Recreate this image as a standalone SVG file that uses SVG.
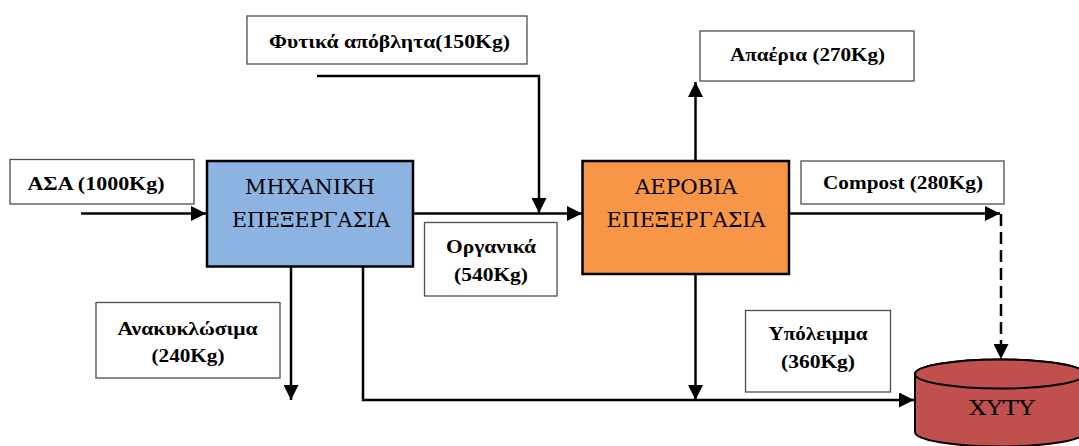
<svg xmlns="http://www.w3.org/2000/svg" width="1079" height="446" viewBox="0 0 1079 446">
  <style>
    .lbl-box { fill: #ffffff; stroke: #4d4d4d; stroke-width: 1.3; }
    .lbl { font-family: "Liberation Serif", "DejaVu Serif", "Times New Roman", serif; font-weight: bold; font-size: 19px; fill: #000; text-anchor: middle; }
    .proc { stroke: #000; stroke-width: 2.5; }
    .proc-txt { font-family: "DejaVu Serif", "Liberation Serif", serif; font-size: 20.5px; fill: #000; text-anchor: middle; }
    .wire { fill: none; stroke: #000; stroke-width: 2.5; }
    .dashed { stroke-dasharray: 12 6; }
  </style>
  <defs>
    <marker id="arrow" markerUnits="userSpaceOnUse" markerWidth="16" markerHeight="15" refX="15" refY="7.5" orient="auto">
      <path d="M0,0 L15,7.5 L0,15 Z" fill="#000"/>
    </marker>
  </defs>

  <rect width="1079" height="446" fill="#ffffff"/>

  <!-- flow lines -->
  <g id="connectors">
    <path class="wire" d="M81,213.5 H206" marker-end="url(#arrow)"/>
    <path class="wire" d="M413,213.5 H582" marker-end="url(#arrow)"/>
    <path class="wire" d="M317,76 H539 V213" marker-end="url(#arrow)"/>
    <path class="wire" d="M695.5,161 V82" marker-end="url(#arrow)"/>
    <path class="wire" d="M789,213.5 H1000" marker-end="url(#arrow)"/>
    <path class="wire dashed" d="M1001,214 V359" marker-end="url(#arrow)"/>
    <path class="wire" d="M291,266.5 V400" marker-end="url(#arrow)"/>
    <path class="wire" d="M363,266.5 V400 H914" marker-end="url(#arrow)"/>
    <path class="wire" d="M695.5,274 V400" marker-end="url(#arrow)"/>
  </g>

  <!-- inputs -->
  <g id="asa">
    <rect class="lbl-box" x="10" y="159.5" width="184" height="44.5"/>
    <text class="lbl" x="96" y="189.5" textLength="137" lengthAdjust="spacingAndGlyphs">ΑΣΑ (1000Kg)</text>
  </g>
  <g id="fytika">
    <rect class="lbl-box" x="247" y="16" width="280" height="48"/>
    <text class="lbl" x="389.5" y="47.5" textLength="241" lengthAdjust="spacingAndGlyphs">Φυτικά απόβλητα(150Kg)</text>
  </g>

  <!-- processing stages -->
  <g id="mechanical">
    <rect class="proc" x="207" y="161" width="206" height="105.5" fill="#8DB3E2"/>
    <text class="proc-txt" x="310" y="194" textLength="130" lengthAdjust="spacingAndGlyphs">ΜΗΧΑΝΙΚΗ</text>
    <text class="proc-txt" x="311" y="227" textLength="158" lengthAdjust="spacingAndGlyphs">ΕΠΕΞΕΡΓΑΣΙΑ</text>
  </g>
  <g id="aerobic">
    <rect class="proc" x="582.5" y="161" width="206.5" height="113" fill="#F79646"/>
    <text class="proc-txt" x="686" y="194" textLength="102" lengthAdjust="spacingAndGlyphs">ΑΕΡΟΒΙΑ</text>
    <text class="proc-txt" x="686" y="227" textLength="159" lengthAdjust="spacingAndGlyphs">ΕΠΕΞΕΡΓΑΣΙΑ</text>
  </g>

  <!-- outputs -->
  <g id="organika">
    <rect class="lbl-box" x="424.5" y="222.5" width="132.5" height="73.5"/>
    <text class="lbl" x="491" y="253" textLength="90" lengthAdjust="spacingAndGlyphs">Οργανικά</text>
    <text class="lbl" x="491" y="281" textLength="74" lengthAdjust="spacingAndGlyphs">(540Kg)</text>
  </g>
  <g id="anakyklosima">
    <rect class="lbl-box" x="96" y="302.5" width="184" height="75.5"/>
    <text class="lbl" x="187.5" y="335" textLength="140" lengthAdjust="spacingAndGlyphs">Ανακυκλώσιμα</text>
    <text class="lbl" x="188" y="361.5" textLength="73" lengthAdjust="spacingAndGlyphs">(240Kg)</text>
  </g>
  <g id="apaeria">
    <rect class="lbl-box" x="700" y="31" width="214" height="50"/>
    <text class="lbl" x="807.5" y="61" textLength="155" lengthAdjust="spacingAndGlyphs">Απαέρια (270Kg)</text>
  </g>
  <g id="compost">
    <rect class="lbl-box" x="801" y="161" width="203" height="43"/>
    <text class="lbl" x="903" y="189" textLength="160" lengthAdjust="spacingAndGlyphs">Compost (280Kg)</text>
  </g>
  <g id="ypoleimma">
    <rect class="lbl-box" x="745.5" y="310.5" width="145" height="81.5"/>
    <text class="lbl" x="818" y="340" textLength="99" lengthAdjust="spacingAndGlyphs">Υπόλειμμα</text>
    <text class="lbl" x="818" y="368" textLength="74" lengthAdjust="spacingAndGlyphs">(360Kg)</text>
  </g>

  <!-- landfill cylinder -->
  <g id="xyty">
    <path d="M915,374 V432 A85,14.5 0 0 0 1085,432 V374 A85,14.5 0 0 0 915,374 Z" fill="#C0504D" stroke="#000" stroke-width="2"/>
    <ellipse cx="1000" cy="374" rx="85" ry="14.5" fill="#C0504D" stroke="#000" stroke-width="2"/>
    <text class="proc-txt" x="1002" y="415" textLength="66" lengthAdjust="spacingAndGlyphs">ΧΥΤΥ</text>
  </g>
</svg>
